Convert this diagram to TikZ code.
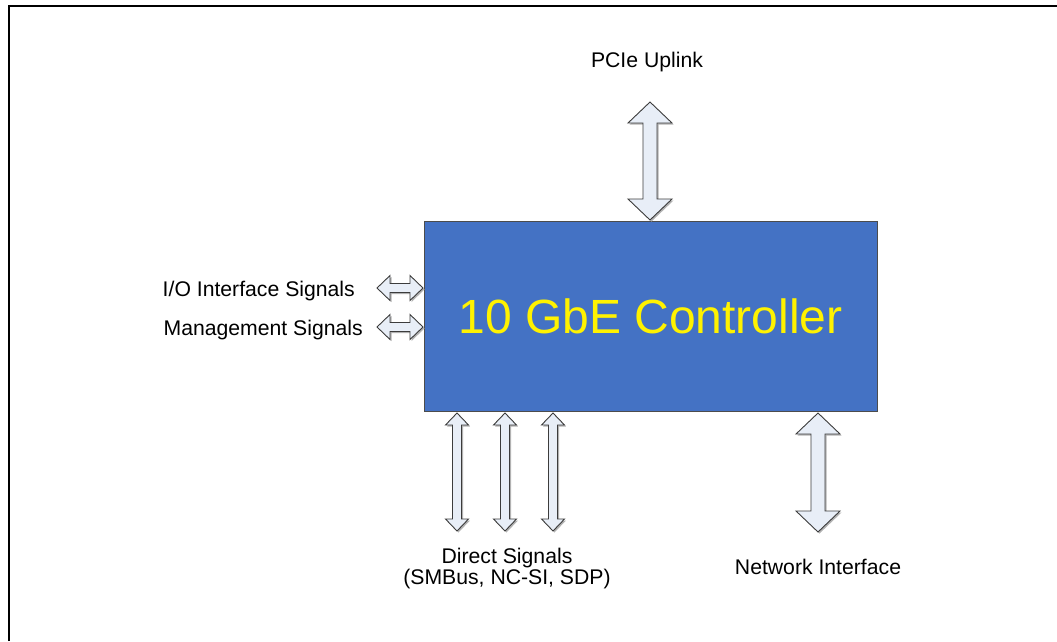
\documentclass[tikz,border=0pt]{standalone}
\usepackage{fontspec}
\setmainfont{Liberation Sans}
\definecolor{boxblue}{RGB}{68,114,196}
\definecolor{arrowfill}{RGB}{232,238,247}
\definecolor{arrowline}{RGB}{60,60,60}
\newcommand{\vdarrow}[6]{% cx, ytop, ybot, head half, shaft half, head length
  \begin{scope}[shift={(1.5,1.5)}]
    \fill[black!30] (#1,#2) -- ({#1+#4},{#2+#6}) -- ({#1+#5},{#2+#6}) -- ({#1+#5},{#3-#6}) -- ({#1+#4},{#3-#6}) -- (#1,#3) -- ({#1-#4},{#3-#6}) -- ({#1-#5},{#3-#6}) -- ({#1-#5},{#2+#6}) -- ({#1-#4},{#2+#6}) -- cycle;
  \end{scope}
  \path[blockarrow] (#1,#2) -- ({#1+#4},{#2+#6}) -- ({#1+#5},{#2+#6}) -- ({#1+#5},{#3-#6}) -- ({#1+#4},{#3-#6}) -- (#1,#3) -- ({#1-#4},{#3-#6}) -- ({#1-#5},{#3-#6}) -- ({#1-#5},{#2+#6}) -- ({#1-#4},{#2+#6}) -- cycle;}
\newcommand{\hdarrow}[6]{% cy, xleft, xright, head half, shaft half, head length
  \begin{scope}[shift={(1.5,1.5)}]
    \fill[black!30] (#2,#1) -- ({#2+#6},{#1-#4}) -- ({#2+#6},{#1-#5}) -- ({#3-#6},{#1-#5}) -- ({#3-#6},{#1-#4}) -- (#3,#1) -- ({#3-#6},{#1+#4}) -- ({#3-#6},{#1+#5}) -- ({#2+#6},{#1+#5}) -- ({#2+#6},{#1+#4}) -- cycle;
  \end{scope}
  \path[blockarrow] (#2,#1) -- ({#2+#6},{#1-#4}) -- ({#2+#6},{#1-#5}) -- ({#3-#6},{#1-#5}) -- ({#3-#6},{#1-#4}) -- (#3,#1) -- ({#3-#6},{#1+#4}) -- ({#3-#6},{#1+#5}) -- ({#2+#6},{#1+#5}) -- ({#2+#6},{#1+#4}) -- cycle;}
\begin{document}
\begin{tikzpicture}[x=1pt,y=-1pt,
  blockarrow/.style={fill=arrowfill,draw=arrowline,line width=0.9pt,line join=miter},
  ctrlbox/.style={draw=black!70,line width=0.8pt,fill=boxblue,inner sep=0pt,outer sep=0pt,
    minimum width=453pt,minimum height=190pt,text=yellow,font=\fontsize{48}{57}\selectfont},
  lbl/.style={font=\fontsize{21.2}{25}\selectfont,inner sep=0pt,anchor=base},
  lblr/.style={lbl,anchor=base east}]
\useasboundingbox (0,0) rectangle (1057,641);
\draw[line width=2pt] (9,641) -- (9,6) -- (1057,6);
\node[ctrlbox,anchor=north west] (ctrl) at (424,221) {10 GbE Controller};
% arrows
\vdarrow{650}{102}{220}{22}{7}{21}
\vdarrow{457}{413}{531}{11.5}{4.5}{12}
\vdarrow{505}{413}{531}{11.5}{4.5}{12}
\vdarrow{553}{413}{531}{11.5}{4.5}{12}
\vdarrow{818}{413}{532}{22}{7}{21}
\hdarrow{288}{377}{423}{12.5}{4.5}{13}
\hdarrow{327}{377}{423}{12.5}{4.5}{13}
% labels
\node[lbl] (pcie) at (647,67) {PCIe Uplink};
\node[lblr] (io) at (355,296) {I/O Interface Signals};
\node[lblr] (mgmt) at (363,335) {Management Signals};
\node[lbl] (direct) at (507,563) {Direct Signals};
\node[lbl] (direct2) at (507,584) {(SMBus, NC-SI, SDP)};
\node[lbl] (net) at (818,574) {Network Interface};
\end{tikzpicture}
\end{document}
